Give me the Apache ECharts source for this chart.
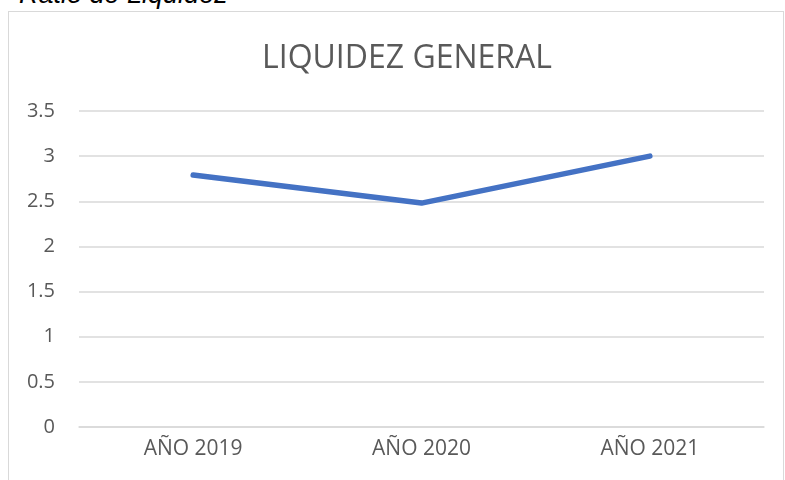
<!DOCTYPE html>
<html><head><meta charset="utf-8">
<script src="https://cdn.jsdelivr.net/npm/echarts@6/dist/echarts.min.js"></script>
<style>
html,body{margin:0;padding:0;background:#fff;overflow:hidden}
#cap{position:absolute;left:19px;top:-19px;font:italic 27px/27px "Liberation Sans",Arial,sans-serif;color:#000;white-space:nowrap}
#box{position:absolute;left:8px;top:11px;width:776px;height:476px;border:1.5px solid #d9d9d9;box-sizing:border-box}
#chart{position:absolute;left:0;top:0;width:785px;height:480px}
</style></head>
<body>
<div id="cap">Ratio de Liquidez</div>
<div id="box"></div>
<div id="chart"></div>
<script>
const categories = ["AÑO 2019", "AÑO 2020", "AÑO 2021"];
const values = [2.79, 2.48, 3.0];
const titleText = "LIQUIDEZ GENERAL";

const chart = echarts.init(document.getElementById('chart'));
chart.setOption({
  animation: false,
  title: {
    text: titleText, left: 257, top: 38,
    textStyle: {fontFamily: 'Open Sans', fontWeight: 'normal', fontSize: 32, color: '#595959'}
  },
  grid: {left: 79, right: 21, top: 111, bottom: 53},
  xAxis: {
    type: 'category', data: categories, boundaryGap: true,
    axisLine: {show: true, lineStyle: {color: '#d9d9d9', width: 1.5}},
    axisTick: {show: false},
    axisLabel: {color: '#595959', fontFamily: 'Open Sans', fontSize: 21, margin: 12}
  },
  yAxis: {
    type: 'value', min: 0, max: 3.5, interval: 0.5,
    axisLine: {show: false}, axisTick: {show: false},
    splitLine: {lineStyle: {color: '#d9d9d9', width: 1.5}},
    axisLabel: {color: '#595959', fontFamily: 'Open Sans', fontSize: 20, margin: 24}
  },
  series: [{
    type: 'line', data: values, symbol: 'none',
    lineStyle: {color: '#4472c4', width: 5.5, cap: 'round', join: 'round'}
  }]
});
</script>
</body></html>
